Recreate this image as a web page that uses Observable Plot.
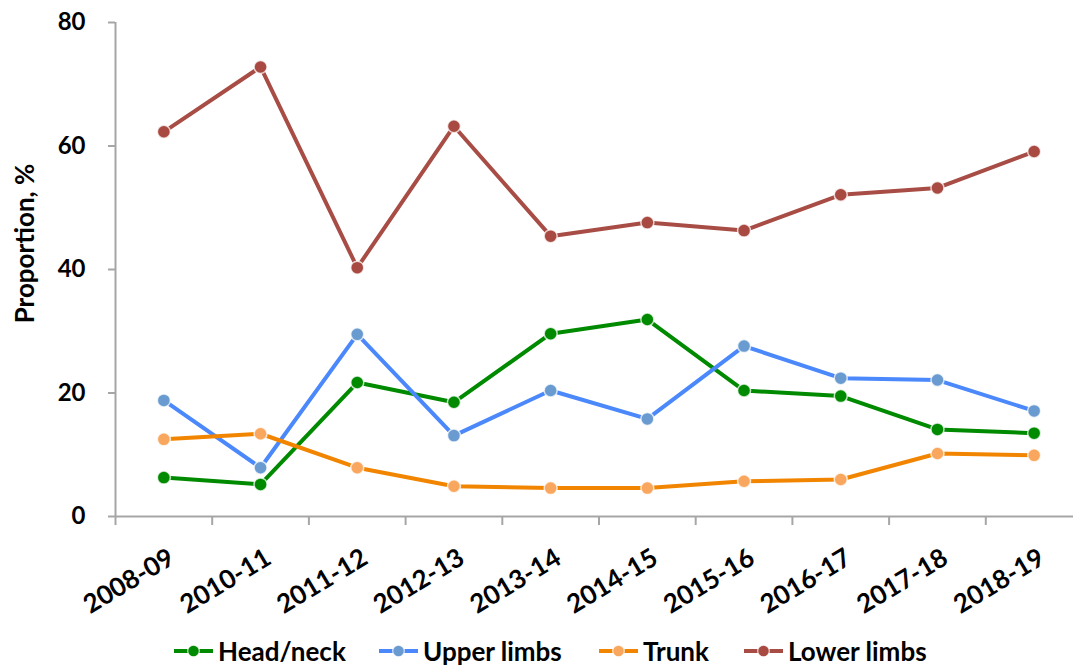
<!DOCTYPE html>
<html>
<head>
<meta charset="utf-8">
<script src="https://cdn.jsdelivr.net/npm/d3@7"></script>
<script src="https://cdn.jsdelivr.net/npm/@observablehq/plot@0.6"></script>
<style>
  html, body { margin: 0; padding: 0; background: #fff; }
  body { width: 1073px; height: 665px; overflow: hidden; font-family: Lato, "Open Sans", sans-serif; }
  #chart svg { display: block; }
  .legend { position: relative; height: 33px; font-weight: bold; font-size: 26px; color: #000; }
  .legend .item { position: absolute; top: 4px; display: flex; align-items: center; line-height: 30px; }
  .legend svg { margin-right: 4px; }
</style>
</head>
<body>
<div id="chart"></div>
<div class="legend" id="legend"></div>
<script>
// Financial years shown on the x axis
const years = ["2008-09", "2010-11", "2011-12", "2012-13", "2013-14", "2014-15", "2015-16", "2016-17", "2017-18", "2018-19"];

// Proportion of injuries (%) by body region
const headNeck   = [6.3, 5.2, 21.7, 18.5, 29.6, 31.9, 20.4, 19.5, 14.1, 13.5];
const upperLimbs = [18.8, 7.9, 29.5, 13.1, 20.4, 15.8, 27.6, 22.4, 22.1, 17.1];
const trunk      = [12.5, 13.4, 7.9, 4.9, 4.6, 4.6, 5.7, 6.0, 10.2, 9.9];
const lowerLimbs = [62.3, 72.8, 40.3, 63.2, 45.4, 47.6, 46.3, 52.1, 53.2, 59.1];

const yTicks = [0, 20, 40, 60, 80];

const series = [
  {name: "Head/neck",   values: headNeck,   line: "#008a00", dot: "#008a00"},
  {name: "Upper limbs", values: upperLimbs, line: "#4a88fb", dot: "#6a9bd0"},
  {name: "Trunk",       values: trunk,      line: "#f28500", dot: "#f9a75e"},
  {name: "Lower limbs", values: lowerLimbs, line: "#a84d45", dot: "#a84a42"}
];

// Long table: category index i sits in the middle of its slot [i, i+1]
const rows = series.flatMap(s => s.values.map((v, i) => ({series: s.name, i, year: years[i], value: v})));

const axisGray = "#a6a6a6";
const font = "Lato, 'Open Sans', sans-serif";

const chart = Plot.plot({
  width: 1073,
  height: 632,
  marginLeft: 115,
  marginRight: 0,
  marginTop: 22,
  marginBottom: 116,
  style: {fontFamily: font, background: "#fff", overflow: "visible"},
  x: {type: "linear", domain: [0, years.length], range: [115, 1082], axis: null},
  y: {domain: [0, 80], axis: null},
  marks: [
    // y axis line, ticks and labels
    Plot.ruleX([0], {y1: 0, y2: 80, stroke: axisGray, strokeWidth: 2}),
    Plot.axisY({ticks: yTicks, tickSize: 7, tickPadding: 23, stroke: axisGray, strokeWidth: 2,
      fontSize: 24, fontWeight: "bold", fill: "#000", tickFormat: d => d, label: null}),
    // x axis line and category boundary ticks
    Plot.ruleY([0], {stroke: axisGray, strokeWidth: 2}),
    Plot.axisX({ticks: d3.range(0, years.length + 1), tickSize: 9, tickFormat: () => "",
      stroke: axisGray, strokeWidth: 2, label: null}),
    // rotated category labels
    Plot.text(years, {x: (d, i) => i + 0.5, y: 0, text: d => d, rotate: -31, textAnchor: "end",
      dx: 8, dy: 39, fontSize: 26, fontWeight: "bold", fill: "#000"}),
    // y axis title
    Plot.text(["Proportion, %"], {frameAnchor: "left", textAnchor: "middle", rotate: -90, dx: -90, dy: -26,
      fontSize: 26, fontWeight: "bold", fill: "#000"}),
    // one line + markers per body region
    ...series.flatMap(s => [
      Plot.line(rows.filter(r => r.series === s.name), {x: r => r.i + 0.5, y: "value",
        stroke: s.line, strokeWidth: 4, curve: "linear"}),
      Plot.dot(rows.filter(r => r.series === s.name), {x: r => r.i + 0.5, y: "value",
        r: 6.5, fill: s.dot, stroke: "#fff", strokeOpacity: 0.75, strokeWidth: 1.5})
    ])
  ]
});
document.getElementById("chart").appendChild(chart);

// Legend below the plot
const legend = document.getElementById("legend");
const lefts = [173, 378, 598, 743];
series.forEach((s, k) => {
  const item = document.createElement("div");
  item.className = "item";
  item.style.left = lefts[k] + "px";
  item.innerHTML = `<svg width="41" height="14"><line x1="1" y1="7" x2="40" y2="7" stroke="${s.line}" stroke-width="4"/><circle cx="20.5" cy="7" r="5.8" fill="${s.dot}" stroke="#fff" stroke-opacity="0.75" stroke-width="1.2"/></svg><span>${s.name}</span>`;
  legend.appendChild(item);
});
</script>
</body>
</html>
